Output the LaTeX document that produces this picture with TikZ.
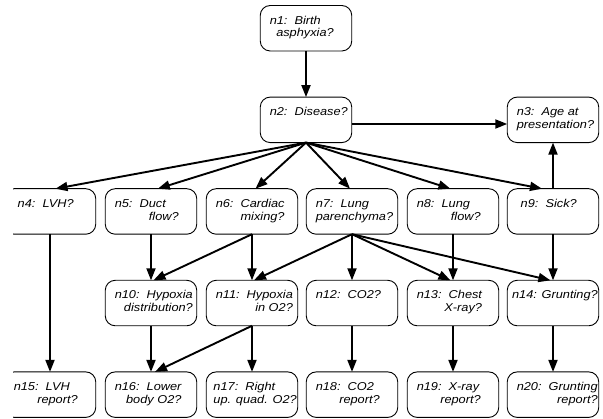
\documentclass[tikz,border=0pt]{standalone}
\usepackage{fontspec}
\setmainfont{Liberation Sans}
\newfontfamily\lblfont[FakeStretch=1.12]{Liberation Sans}
\usetikzlibrary{arrows.meta,calc}

\newdimen\lblw
\newdimen\lblpad
% two-line label: first line left, second line right-aligned in a block
\newcommand\boxtext[2]{%
  \setbox0=\hbox{#1}\setbox2=\hbox{#2}%
  \lblw=64pt
  \ifdim\wd0>\lblw \lblw=\wd0 \fi
  \ifdim\wd2>\lblw \lblw=\wd2 \fi
  \lblpad=90.5pt \advance\lblpad by -\lblw
  \ifdim\lblpad>9.5pt \lblpad=9.5pt \fi
  \ifdim\lblpad<1pt \lblpad=1pt \fi
  \vbox to 45.5pt{\hsize=91.5pt \baselineskip=12.8pt \lineskip=1pt \kern5.8pt \hbox{}%
    \hbox to\hsize{\hskip\lblpad\hbox to\lblw{\box0\hfil}\hss}%
    \hbox to\hsize{\hskip\lblpad\hbox to\lblw{\hfil\box2}\hss}\vss}}
% one-line label, centred in its block
\newcommand\onetext[1]{%
  \setbox0=\hbox{#1}%
  \lblw=64pt
  \ifdim\wd0>\lblw \lblw=\wd0 \fi
  \lblpad=90.5pt \advance\lblpad by -\lblw
  \ifdim\lblpad>9.5pt \lblpad=9.5pt \fi
  \ifdim\lblpad<1pt \lblpad=1pt \fi
  \vbox to 45.5pt{\hsize=91.5pt \baselineskip=12.8pt \lineskip=1pt \kern5.8pt \hbox{}%
    \hbox to\hsize{\hskip\lblpad\hbox to\lblw{\hfil\box0\hfil}\hss}\vss}}

\tikzset{
  qbox/.style={draw=black, line width=0.9pt, rounded corners=10pt, inner sep=0pt,
    outer sep=0pt, anchor=north west,
    font={\lblfont\itshape\fontsize{11.4pt}{12.8pt}\selectfont}},
  link/.style={line width=1.9pt, -{Triangle[length=12pt,width=9pt]}}
}

\begin{document}
\begin{tikzpicture}[x=1pt,y=-1pt]
\useasboundingbox (0,0) rectangle (603,419);
\begin{scope}
\clip (13,-2) rectangle (605,421);
% row 1 and 2
\node[qbox] (n1) at (260.25,5.5) {\boxtext{n1:\ \ Birth}{asphyxia?}};
\node[qbox] (n2) at (260.25,97.1) {\onetext{n2:\ \ Disease?}};
\node[qbox] (n3) at (507.25,97.1) {\boxtext{n3:\ \ Age at}{presentation?}};
% row 3
\node[qbox] (n4) at (4.25,188.7) {\onetext{n4:\ \ LVH?}};
\node[qbox] (n5) at (105.25,188.7) {\boxtext{n5:\ \ Duct}{flow?}};
\node[qbox] (n6) at (206.25,188.7) {\boxtext{n6:\ \ Cardiac}{mixing?}};
\node[qbox] (n7) at (306.25,188.7) {\boxtext{n7:\ \ Lung}{parenchyma?}};
\node[qbox] (n8) at (407.25,188.7) {\boxtext{n8:\ \ Lung}{flow?}};
\node[qbox] (n9) at (507.25,188.7) {\onetext{n9:\ \ Sick?}};
% row 4
\node[qbox] (n10) at (105.25,280.3) {\boxtext{n10:\ \ Hypoxia}{distribution?}};
\node[qbox] (n11) at (206.25,280.3) {\boxtext{n11:\ \ Hypoxia}{in O2?}};
\node[qbox] (n12) at (306.25,280.3) {\onetext{n12:\ \ CO2?}};
\node[qbox] (n13) at (407.25,280.3) {\boxtext{n13:\ \ Chest}{X-ray?}};
\node[qbox] (n14) at (507.25,280.3) {\onetext{n14: Grunting?}};
% row 5
\node[qbox] (n15) at (4.25,371.9) {\boxtext{n15:\ \ LVH}{report?}};
\node[qbox] (n16) at (105.25,371.9) {\boxtext{n16:\ \ Lower}{body O2?}};
\node[qbox] (n17) at (206.25,371.9) {\boxtext{n17:\ \ Right}{up. quad. O2?}};
\node[qbox] (n18) at (306.25,371.9) {\boxtext{n18:\ \ CO2}{report?}};
\node[qbox] (n19) at (407.25,371.9) {\boxtext{n19:\ \ X-ray}{report?}};
\node[qbox] (n20) at (507.25,371.9) {\boxtext{n20:\ \ Grunting}{report?}};

% connectors
\draw[link] (n1.south) -- (n2.north);
\draw[link] ($(n2.east)+(0,4.15)$) -- ($(n3.west)+(0,4.15)$);
\draw[link] (n2.south) -- ($(n4.north)+(5.5,0)$);
\draw[link] (n2.south) -- ($(n5.north)+(6.8,0)$);
\draw[link] (n2.south) -- ($(n6.north)+(3.5,0)$);
\draw[link] (n2.south) -- ($(n7.north)+(-2,0)$);
\draw[link] (n2.south) -- ($(n8.north)+(-2.6,0)$);
\draw[link] (n2.south) -- ($(n9.north)+(-11,0)$);
\draw[link] (n9.north) -- (n3.south);

\draw[link] (n5.south) -- (n10.north);
\draw[link] (n6.south) -- ($(n10.north)+(2.5,0)$);
\draw[link] (n6.south) -- (n11.north);
\draw[link] (n7.south) -- ($(n11.north)+(2,0)$);
\draw[link] (n7.south) -- (n12.north);
\draw[link] (n7.south) -- ($(n13.north)+(-2.6,0)$);
\draw[link] (n7.south) -- ($(n14.north)+(-2.6,0)$);
\draw[link] (n8.south) -- (n13.north);
\draw[link] (n9.south) -- (n14.north);

\draw[link] (n4.south) -- (n15.north);
\draw[link] (n10.south) -- (n16.north);
\draw[link] (n11.south) -- ($(n16.north)+(4,0)$);
\draw[link] (n11.south) -- (n17.north);
\draw[link] (n12.south) -- (n18.north);
\draw[link] (n13.south) -- (n19.north);
\draw[link] (n14.south) -- (n20.north);
\end{scope}
\end{tikzpicture}
\end{document}
